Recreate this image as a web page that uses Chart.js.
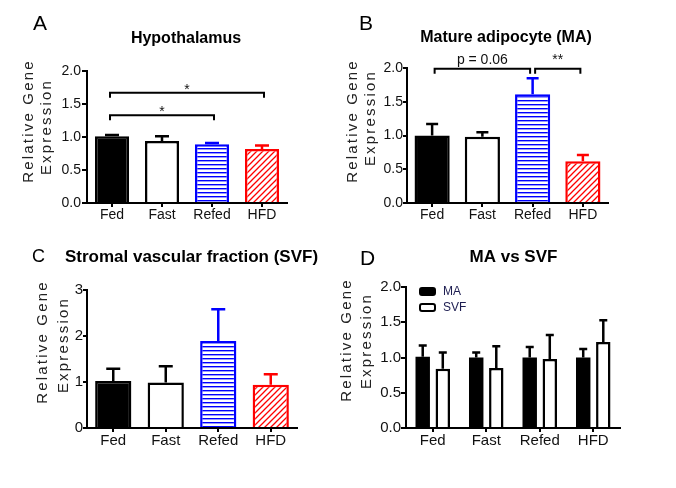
<!DOCTYPE html>
<html>
<head>
<meta charset="utf-8">
<script src="https://cdn.jsdelivr.net/npm/chart.js@4/dist/chart.umd.min.js"></script>
<style>
  body { margin: 0; background: #fff; }
  #wrap { position: relative; width: 676px; height: 488px; }
  canvas { position: absolute; }
</style>
</head>
<body>
<div id="wrap">
  <canvas id="pA" width="338" height="230" style="left:0;top:0"></canvas>
  <canvas id="pB" width="338" height="230" style="left:338px;top:0"></canvas>
  <canvas id="pC" width="338" height="258" style="left:0;top:230px"></canvas>
  <canvas id="pD" width="338" height="258" style="left:338px;top:230px"></canvas>
</div>
<script>
// values
const categories = ['Fed', 'Fast', 'Refed', 'HFD']

const hypoMean = [1.01, 0.94, 0.89, 0.82]
const hypoErr = [0.02, 0.07, 0.02, 0.05]

const maMean = [1.00, 0.98, 1.61, 0.62]
const maErr = [0.17, 0.07, 0.24, 0.09]

const svfMean = [1.02, 0.99, 1.89, 0.94]
const svfErr = [0.27, 0.35, 0.69, 0.23]

const seriesNames = ['MA', 'SVF']
const cmpMA = [1.01, 1.00, 1.00, 1.00]
const cmpMAErr = [0.16, 0.07, 0.15, 0.12]
const cmpSVF = [0.84, 0.85, 0.98, 1.22]
const cmpSVFErr = [0.23, 0.31, 0.34, 0.31]

const ticks2 = [0, 0.5, 1, 1.5, 2]
const ticks3 = [0, 1, 2, 3]

const sigA = [
    { from: 0, to: 2, level: 1.33, text: '*' },
    { from: 0, to: 3, level: 1.67, text: '*' }
]
const sigB = [
    { from: 0, to: 2, level: 1.99, text: 'p = 0.06' },
    { from: 2, to: 3, level: 1.99, text: '**' }
]

const FONT = '"Liberation Sans", Arial, sans-serif'
Chart.defaults.font.family = FONT
Chart.defaults.color = '#111'

function hStripes(color) {
    const c = document.createElement('canvas')
    c.width = 4
    c.height = 4
    const g = c.getContext('2d')
    g.fillStyle = '#fff'
    g.fillRect(0, 0, 4, 4)
    g.fillStyle = color
    g.fillRect(0, 0, 4, 1.4)
    return g.createPattern(c, 'repeat')
}

function diagStripes(color) {
    const c = document.createElement('canvas')
    c.width = 6
    c.height = 6
    const g = c.getContext('2d')
    g.fillStyle = '#fff'
    g.fillRect(0, 0, 6, 6)
    g.strokeStyle = color
    g.lineWidth = 1.3
    g.beginPath()
    g.moveTo(0, 6); g.lineTo(6, 0)
    g.moveTo(-1, 1); g.lineTo(1, -1)
    g.moveTo(5, 7); g.lineTo(7, 5)
    g.stroke()
    return g.createPattern(c, 'repeat')
}

const BLUE = '#0000ff'
const RED = '#ff0000'
const fills = ['#000', '#fff', hStripes(BLUE), diagStripes(RED)]
const edges = ['#000', '#000', BLUE, RED]

// up-only error bars with a cap
const errorBars = {
    id: 'errorBars',
    afterDatasetsDraw(chart, args, opts) {
        const ctx = chart.ctx
        const ys = chart.scales.y
        chart.data.datasets.forEach((ds, i) => {
            if (!ds.errors) return
            chart.getDatasetMeta(i).data.forEach((bar, j) => {
                const top = ys.getPixelForValue(ds.data[j] + ds.errors[j])
                ctx.save()
                ctx.strokeStyle = Array.isArray(ds.borderColor) ? ds.borderColor[j] : ds.borderColor
                ctx.lineWidth = opts.width || 2.5
                ctx.beginPath()
                ctx.moveTo(bar.x, bar.y)
                ctx.lineTo(bar.x, top)
                ctx.moveTo(bar.x - opts.cap, top)
                ctx.lineTo(bar.x + opts.cap, top)
                ctx.stroke()
                ctx.restore()
            })
        })
    }
}

// panel letter, title, spaced y title, brackets, legend
const decor = {
    id: 'decor',
    afterDraw(chart, args, o) {
        const ctx = chart.ctx
        const xs = chart.scales.x
        const ys = chart.scales.y
        ctx.save()
        ctx.fillStyle = '#000'
        ctx.textBaseline = 'alphabetic'

        ctx.font = o.letterSize + 'px ' + FONT
        ctx.textAlign = 'left'
        ctx.fillText(o.letter, o.letterX, o.letterY)

        ctx.font = 'bold ' + o.titleSize + 'px ' + FONT
        ctx.textAlign = 'center'
        ctx.fillText(o.title, o.titleX, o.titleY)

        ctx.fillStyle = '#222'
        ctx.font = '15px ' + FONT
        o.ylines.forEach(([text, x, cy]) => {
            ctx.save()
            ctx.translate(x, cy)
            ctx.rotate(-Math.PI / 2)
            ctx.letterSpacing = '2.2px'
            ctx.textAlign = 'center'
            ctx.fillText(text, 0, 0)
            ctx.restore()
        })

        ctx.fillStyle = '#111'
        ctx.strokeStyle = '#000'
        ctx.lineWidth = 2
        ctx.font = '14px ' + FONT
        ;(o.brackets || []).forEach(b => {
            const x1 = xs.getPixelForValue(b.from) + o.inset
            const x2 = xs.getPixelForValue(b.to) - o.inset
            const y = ys.getPixelForValue(b.level)
            ctx.beginPath()
            ctx.moveTo(x1, y + 5)
            ctx.lineTo(x1, y)
            ctx.lineTo(x2, y)
            ctx.lineTo(x2, y + 5)
            ctx.stroke()
            ctx.textAlign = 'center'
            ctx.fillText(b.text, (x1 + x2) / 2, y - o.gap)
        })

        if (o.legend) {
            const L = o.legend
            chart.data.datasets.forEach((ds, i) => {
                const y = L.y + i * L.step
                ctx.beginPath()
                ctx.roundRect(L.x + 1, y + 1, 15, 7, 2)
                ctx.fillStyle = ds.backgroundColor
                ctx.fill()
                ctx.lineWidth = 2
                ctx.strokeStyle = '#000'
                ctx.stroke()
                ctx.fillStyle = '#1c1c50'
                ctx.font = '12px ' + FONT
                ctx.textAlign = 'left'
                ctx.textBaseline = 'middle'
                ctx.fillText(ds.label, L.x + 24, y + 5)
            })
        }
        ctx.restore()
    }
}

function panel(id, o) {
    const canvas = document.getElementById(id)
    const W = canvas.width
    const H = canvas.height
    const [left, top, right, bottom] = o.area
    return new Chart(canvas, {
        type: 'bar',
        data: { labels: categories, datasets: o.datasets },
        options: {
            responsive: false,
            animation: false,
            layout: {
                padding: { left: left - o.yw, top: top, right: W - right, bottom: H - bottom - o.xh }
            },
            datasets: {
                bar: { categoryPercentage: o.cat, barPercentage: o.bar }
            },
            scales: {
                x: {
                    grid: { offset: false, drawOnChartArea: false, tickLength: 4, color: '#000', lineWidth: 2 },
                    border: { color: '#000', width: 2 },
                    ticks: { color: '#111', padding: 0, font: { size: o.fs } },
                    afterFit: s => { s.height = o.xh }
                },
                y: {
                    min: 0,
                    max: o.ticks[o.ticks.length - 1],
                    afterBuildTicks: s => { s.ticks = o.ticks.map(v => ({ value: v })) },
                    grid: { drawOnChartArea: false, tickLength: o.tl, color: '#000', lineWidth: 2 },
                    border: { color: '#000', width: 2 },
                    ticks: { color: '#111', padding: o.tp, font: { size: o.fs }, callback: v => o.fmt(v) },
                    afterFit: s => { s.width = o.yw }
                }
            },
            plugins: {
                legend: { display: false },
                tooltip: { enabled: false },
                errorBars: { cap: o.cap },
                decor: o.decor
            }
        },
        plugins: [errorBars, decor]
    })
}

const oneDecimal = v => v.toFixed(1)

panel('pA', {
    area: [87, 71, 287, 203], yw: 60, xh: 26, fs: 14, tl: 5, tp: 1,
    cat: 1, bar: 0.68, cap: 7, ticks: ticks2, fmt: oneDecimal,
    datasets: [{ data: hypoMean, errors: hypoErr, backgroundColor: fills, borderColor: edges, borderWidth: 2.5 }],
    decor: {
        letter: 'A', letterSize: 21, letterX: 33, letterY: 30,
        title: 'Hypothalamus', titleSize: 16, titleX: 186, titleY: 43,
        ylines: [['Relative Gene', 33, 121], ['Expression', 51, 127]],
        brackets: sigA, inset: -2, gap: -1
    }
})

panel('pB', {
    area: [69, 68, 270, 203], yw: 60, xh: 26, fs: 14, tl: 4, tp: 0,
    cat: 1, bar: 0.7, cap: 6, ticks: ticks2, fmt: oneDecimal,
    datasets: [{ data: maMean, errors: maErr, backgroundColor: fills, borderColor: edges, borderWidth: 2.5 }],
    decor: {
        letter: 'B', letterSize: 21, letterX: 21, letterY: 30,
        title: 'Mature adipocyte (MA)', titleSize: 16, titleX: 168, titleY: 41.5,
        ylines: [['Relative Gene', 19, 121], ['Expression', 37, 118]],
        brackets: sigB, inset: 2.5, gap: 5
    }
})

panel('pC', {
    area: [87, 60, 297, 198], yw: 60, xh: 26, fs: 15, tl: 4, tp: 0,
    cat: 1, bar: 0.69, cap: 7, ticks: ticks3, fmt: v => String(v),
    datasets: [{ data: svfMean, errors: svfErr, backgroundColor: fills, borderColor: edges, borderWidth: 2.5 }],
    decor: {
        letter: 'C', letterSize: 18, letterX: 32, letterY: 32,
        title: 'Stromal vascular fraction (SVF)', titleSize: 17, titleX: 191.5, titleY: 32.3,
        ylines: [['Relative Gene', 47, 112], ['Expression', 68, 115]]
    }
})

panel('pD', {
    area: [68, 57, 282, 198], yw: 60, xh: 26, fs: 15, tl: 5, tp: 0,
    cat: 0.75, bar: 0.72, cap: 4, ticks: ticks2, fmt: oneDecimal,
    datasets: [
        { label: seriesNames[0], data: cmpMA, errors: cmpMAErr, backgroundColor: '#000', borderColor: '#000', borderWidth: 0 },
        { label: seriesNames[1], data: cmpSVF, errors: cmpSVFErr, backgroundColor: '#fff', borderColor: '#000', borderWidth: 2.5 }
    ],
    decor: {
        letter: 'D', letterSize: 21, letterX: 22, letterY: 35,
        title: 'MA vs SVF', titleSize: 17, titleX: 175.5, titleY: 32.3,
        ylines: [['Relative Gene', 13, 110], ['Expression', 33, 111]],
        legend: { x: 81, y: 57, step: 16 }
    }
})
</script>
</body>
</html>
